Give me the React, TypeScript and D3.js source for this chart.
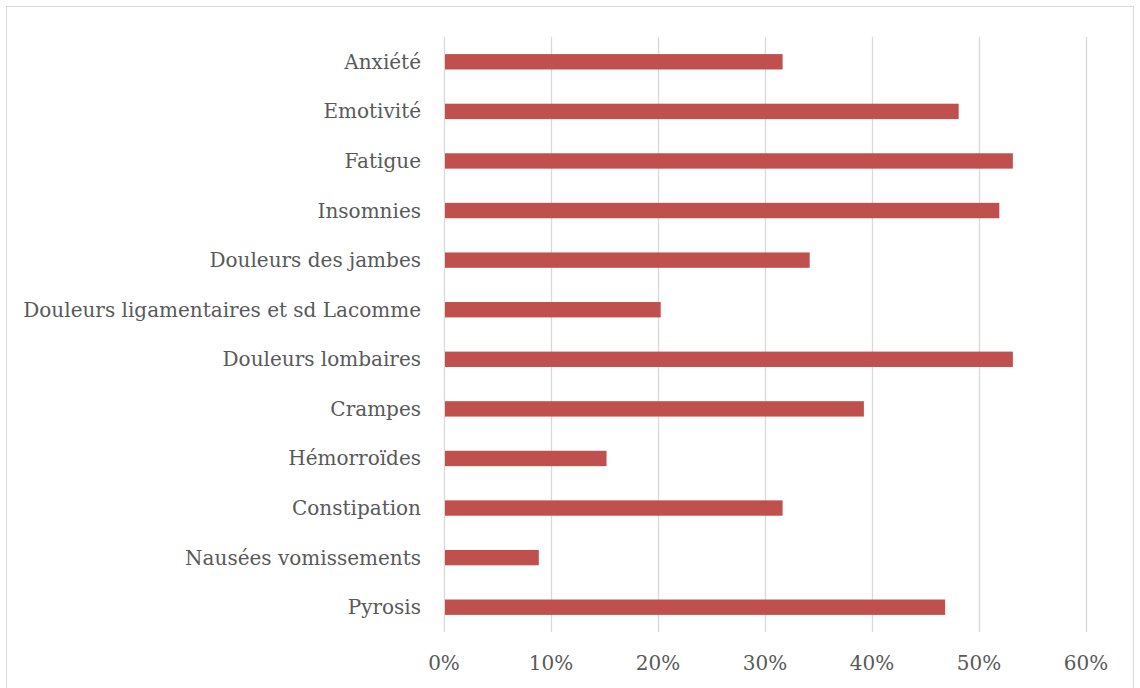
import React, { useEffect, useRef } from "react";
import * as d3 from "d3";

const categories = [
  "Anxiété",
  "Emotivité",
  "Fatigue",
  "Insomnies",
  "Douleurs des jambes",
  "Douleurs ligamentaires et sd Lacomme",
  "Douleurs lombaires",
  "Crampes",
  "Hémorroïdes",
  "Constipation",
  "Nausées vomissements",
  "Pyrosis",
];
const values = [
  25 / 79, 38 / 79, 42 / 79, 41 / 79, 27 / 79, 16 / 79,
  42 / 79, 31 / 79, 12 / 79, 25 / 79, 7 / 79, 37 / 79,
];
const ticks = [0, 0.1, 0.2, 0.3, 0.4, 0.5, 0.6];

const W = 1140;
const H = 688;
const FONT = "'DejaVu Serif', serif";

export default function App() {
  const ref = useRef<SVGSVGElement>(null);
  useEffect(() => {
    const svg = d3.select(ref.current);
    svg.selectAll("*").remove();

    const x = d3.scaleLinear().domain([0, 0.6]).range([444, 1086]);
    const y = d3
      .scaleBand<string>()
      .domain(categories)
      .range([37, 632])
      .paddingInner(0.69)
      .paddingOuter(0.345);

    svg
      .append("rect")
      .attr("x", 0)
      .attr("y", 0)
      .attr("width", W)
      .attr("height", H)
      .attr("fill", "#fff");
    svg
      .append("rect")
      .attr("x", 6.5)
      .attr("y", 6.5)
      .attr("width", 1127)
      .attr("height", 700)
      .attr("fill", "none")
      .attr("stroke", "#D9D9D9")
      .attr("stroke-width", 1);

    svg
      .append("g")
      .selectAll("line")
      .data(ticks)
      .join("line")
      .attr("x1", (d) => Math.round(x(d)) + 0.5)
      .attr("x2", (d) => Math.round(x(d)) + 0.5)
      .attr("y1", 37)
      .attr("y2", 632)
      .attr("stroke", "#D9D9D9")
      .attr("stroke-width", 1.3);

    svg
      .append("g")
      .selectAll("rect")
      .data(values)
      .join("rect")
      .attr("x", x(0) + 1)
      .attr("y", (_, i) => y(categories[i])!)
      .attr("width", (d) => x(d) - x(0) - 1)
      .attr("height", y.bandwidth())
      .attr("fill", "#C0504D");

    svg
      .append("g")
      .selectAll("text")
      .data(categories)
      .join("text")
      .attr("x", 421)
      .attr("y", (d) => y(d)! + y.bandwidth() / 2)
      .attr("dy", "0.35em")
      .attr("text-anchor", "end")
      .attr("font-family", FONT)
      .attr("font-size", 20)
      .attr("fill", "#595959")
      .text((d) => d);

    svg
      .append("g")
      .selectAll("text")
      .data(ticks)
      .join("text")
      .attr("x", (d) => x(d))
      .attr("y", 663)
      .attr("dy", "0.35em")
      .attr("text-anchor", "middle")
      .attr("font-family", FONT)
      .attr("font-size", 20)
      .attr("fill", "#595959")
      .text((d) => d3.format(".0%")(d));
  }, []);

  return (
    <svg
      ref={ref}
      width={W}
      height={H}
      style={{ position: "absolute", left: 0, top: 0, display: "block" }}
    />
  );
}
